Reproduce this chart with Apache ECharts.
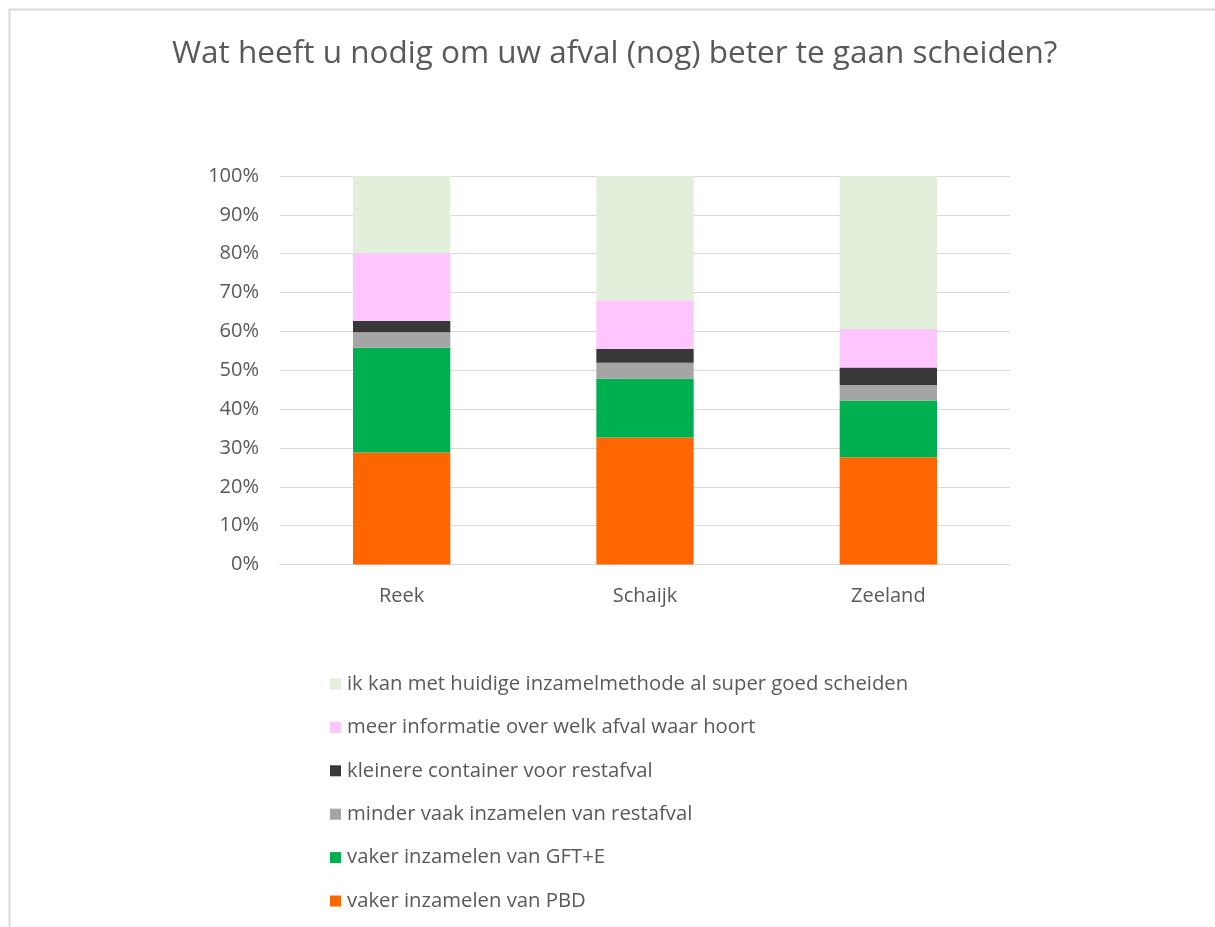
<!DOCTYPE html>
<html>
<head>
<meta charset="utf-8">
<script src="https://cdn.jsdelivr.net/npm/echarts@6/dist/echarts.min.js"></script>
<style>
  html, body { margin: 0; padding: 0; background: #fff; }
  #chart { width: 1215px; height: 927px; }
</style>
</head>
<body>
<div id="chart"></div>
<script>
const categories = ['Reek', 'Schaijk', 'Zeeland']

const seriesNames = [
  'vaker inzamelen van PBD',
  'vaker inzamelen van GFT+E',
  'minder vaak inzamelen van restafval',
  'kleinere container voor restafval',
  'meer informatie over welk afval waar hoort',
  'ik kan met huidige inzamelmethode al super goed scheiden'
]

// percentages per plaats (Reek, Schaijk, Zeeland)
const pbd = [28.8, 32.7, 27.6]
const gft = [27.0, 15.1, 14.6]
const minderVaak = [4.0, 4.1, 4.0]
const kleinereContainer = [2.9, 3.6, 4.5]
const meerInfo = [17.4, 12.5, 9.9]
const superGoed = [19.9, 32.0, 39.4]

const colors = ['#ff6600', '#00b050', '#a5a5a5', '#383838', '#ffc5ff', '#e2efda']

const values = [pbd, gft, minderVaak, kleinereContainer, meerInfo, superGoed]

const font = '"Open Sans", Lato, sans-serif'
const textColor = '#595959'

const myChart = echarts.init(document.getElementById('chart'))

const option = {
  backgroundColor: '#fff',
  animation: false,
  color: colors,
  graphic: [
    {
      type: 'rect',
      shape: { x: 9.5, y: 9.5, width: 1300, height: 1000 },
      style: { fill: 'none', stroke: '#d9d9d9', lineWidth: 2 }
    }
  ],
  title: {
    text: 'Wat heeft u nodig om uw afval (nog) beter te gaan scheiden?',
    left: 167,
    top: 33,
    textStyle: { fontFamily: font, fontSize: 31.5, fontWeight: 'normal', color: textColor }
  },
  legend: {
    orient: 'vertical',
    left: 325,
    top: 669,
    itemWidth: 11,
    itemHeight: 11,
    itemGap: 23.4,
    icon: 'rect',
    data: seriesNames.slice().reverse(),
    textStyle: { fontFamily: font, fontSize: 20.3, color: textColor, padding: [0, 0, 0, 1] }
  },
  grid: {
    left: 280,
    right: 205,
    top: 176,
    bottom: 362.5,
    containLabel: false
  },
  xAxis: {
    type: 'category',
    data: categories,
    axisLine: { lineStyle: { color: '#d9d9d9', width: 1 } },
    axisTick: { show: false },
    axisLabel: { fontFamily: font, fontSize: 20, color: textColor, margin: 22 }
  },
  yAxis: {
    type: 'value',
    min: 0,
    max: 100,
    interval: 10,
    axisLine: { show: false },
    axisTick: { show: false },
    splitLine: { lineStyle: { color: '#d9d9d9', width: 1 } },
    axisLabel: { formatter: '{value}%', fontFamily: font, fontSize: 20, color: textColor, margin: 21 }
  },
  series: seriesNames.map((name, i) => ({
    name: name,
    type: 'bar',
    stack: 'total',
    barWidth: '40%',
    data: values[i],
    itemStyle: { color: colors[i] }
  }))
}

myChart.setOption(option)
</script>
</body>
</html>
